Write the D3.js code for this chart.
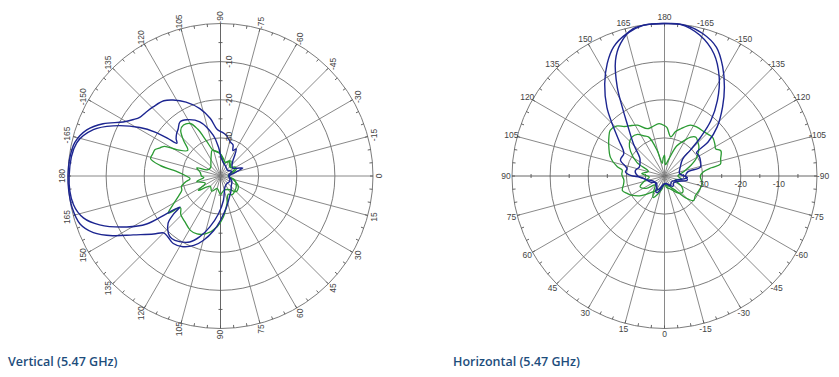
<!DOCTYPE html>
<html>
<head>
<meta charset="utf-8">
<script src="https://cdn.jsdelivr.net/npm/d3@7"></script>
<style>
  body { margin: 0; background: #fff; }
  .cap { font-family: "Open Sans", sans-serif; font-weight: 600; font-size: 12.5px; fill: #1d4d7c; }
  .lbl { font-family: "Liberation Sans", Arial, sans-serif; font-size: 8.5px; fill: #444; }
</style>
</head>
<body>
<svg id="chart" width="839" height="377"></svg>
<script>
// angle convention of the plots: 0 = bottom, 90 = left, 180 = top, -90 = right
const angleTicks = d3.range(-165, 181, 15);
const ringLevels = [-30, -20, -10, 0];
const ringLabels = [-30, -20, -10];
const dbMin = -40, dbMax = 0;

// [angle, dB] — vertical cut
const vBlue1 = [[-180,0],[-173,-0.2],[-167,-0.8],[-161,-2.9],[-156,-6.3],[-151,-10.8],[-147,-12.8],[-144,-13.8],[-139,-14.3],[-134,-14.7],[-127,-15.3],[-122,-16.5],[-115,-18.6],[-107,-21.5],[-100,-24.7],[-94,-27.8],[-88,-28.5],[-82,-29.2],[-74,-30.7],[-68,-31.2],[-64,-32.6],[-60,-31.8],[-56,-33.2],[-52,-34.6],[-44,-35.8],[-34,-36.2],[-26,-35.4],[-20,-33.8],[-16,-35.2],[-10,-36.8],[-3,-37.6],[5,-37.8],[15,-37.2],[28,-36.6],[42,-36.2],[55,-35.2],[67,-34],[79,-31.7],[90,-28.4],[97,-25.6],[105,-22.5],[111,-20.5],[118,-19],[125,-18.4],[131,-18.9],[135,-18.9],[139,-16.8],[146,-12.4],[151,-7.7],[156,-3.5],[161,-1.1],[168,-0.2],[175,0]];
const vBlue2 = [[-180,-0.3],[-167,-1.3],[-160,-4.5],[-155,-8.9],[-149,-15.3],[-146,-19.5],[-144.5,-23],[-143,-25.7],[-140,-24.8],[-136,-24],[-132,-23.4],[-127,-22.3],[-121,-22.8],[-111,-24.8],[-100,-29.2],[-94,-32.4],[-88,-35.2],[-78,-36.4],[-60,-37.2],[-40,-37.6],[-22,-36.8],[-8,-37.8],[10,-37.6],[30,-37.2],[50,-37.4],[68,-36.9],[83,-33.6],[93,-30.1],[102,-26.3],[109,-23.1],[115,-20.9],[122,-19.7],[128,-19.2],[132,-19.6],[138,-21.5],[141,-24.2],[142.6,-26.6],[145,-22.8],[147,-16.9],[151.5,-12],[158,-5.8],[163,-2.4],[169,-0.7]];
const vGreen1 = [[-180,-31],[-175,-29],[-170,-23.9],[-166,-21.1],[-162,-21.3],[-158,-21.5],[-155,-22.5],[-152,-23.4],[-149,-26.6],[-142,-29.1],[-136,-26.5],[-131,-24.1],[-126,-23.5],[-120,-24.1],[-116,-26.3],[-112,-30],[-106,-33],[-99,-33.6],[-91,-34.1],[-82,-35.2],[-70,-36.2],[-55,-35.2],[-40,-36.6],[-25,-35.4],[-10,-37.2],[0,-38],[15,-36.2],[30,-35.2],[45,-34.6],[58,-34.2],[67,-34.8],[77,-32.5],[86,-29.2],[94,-26.6],[104,-24.4],[112,-23.6],[119,-23.7],[128,-24.8],[136,-25.5],[141.5,-26.6],[144.6,-23.2],[149,-25.5],[155,-28],[160,-29.2],[165,-29.4],[170,-30.6],[175,-32]];
const vGreen2 = [[-180,-35],[-170,-34.6],[-161,-33.4],[-155,-36.2],[-140,-36.6],[-125,-35.6],[-115,-34.2],[-108,-32.9],[-100,-33.4],[-92,-34],[-85,-35],[-75,-36.6],[-60,-35.4],[-45,-36.6],[-30,-35.4],[-15,-37.2],[0,-38],[15,-36.6],[30,-34.6],[45,-34.2],[55,-35.6],[75,-36.2],[90,-35.2],[105,-36.6],[120,-35.4],[135,-36.2],[147,-33.1],[155,-35.6],[167,-33.6],[175,-35.6]];

// [angle, dB] — horizontal cut
const hBlue1 = [[-180,0],[-172,-0.1],[-165,-1.3],[-158,-3.6],[-152,-7.5],[-146,-11.9],[-140,-16.3],[-133,-21.1],[-128,-25.5],[-126,-29.6],[-121,-29.5],[-112,-29.8],[-104,-30.3],[-100,-33.8],[-90,-34.5],[-80,-33.9],[-70,-36],[-55,-37],[-40,-36.5],[-25,-37.5],[-10,-38],[5,-37.8],[15,-36.6],[24,-35.2],[30,-35.4],[38,-36.8],[52,-37.2],[66,-36],[80,-35],[87,-33.7],[91,-31.1],[96,-29.7],[101,-30],[110,-27.7],[119,-27.8],[128,-24.8],[135,-20.6],[140,-16.5],[147,-11.2],[153,-6.9],[158.5,-3.6],[165,-1.4],[172,-0.1]];
const hBlue2 = [[-180,0],[-174,0],[-166,-1.9],[-158,-5.4],[-151,-10.4],[-145,-15.8],[-140,-21.1],[-137,-26.1],[-135,-30.4],[-133,-33.5],[-120,-35.2],[-100,-36],[-86,-34],[-72,-36.6],[-50,-37.6],[-30,-37],[-10,-38],[10,-37.6],[25,-36],[40,-36.6],[60,-37],[80,-35],[90,-33],[100,-32.2],[110,-33],[120,-32.6],[126,-32],[136,-28.3],[144.5,-23.1],[148.5,-18.8],[152,-13.6],[157,-7.1],[161.6,-3.4],[168,-0.5],[175,0]];
const hGreen1 = [[-180,-26.8],[-177,-27.3],[-171,-29.6],[-166,-28],[-161,-26.9],[-153,-25],[-146,-24.6],[-140,-24.5],[-134,-24.2],[-129,-23.8],[-122,-24.4],[-118,-24.8],[-114,-23.8],[-107,-24.6],[-102,-25],[-100,-27.5],[-96,-29.8],[-90,-30.6],[-78,-29.9],[-67,-30.2],[-57,-30.4],[-50,-30],[-44,-32],[-38,-35],[-25,-37],[-10,-37.5],[0,-38],[10,-37.5],[22,-36.4],[35,-35],[50,-32],[60,-30],[65,-29.2],[71,-28.3],[78,-29],[84,-29.3],[92,-28.8],[98,-28.8],[101,-27.4],[109,-25],[120,-23.1],[125,-22.2],[130,-21.4],[136,-21.8],[141,-23.3],[147,-24.2],[152,-24.9],[160,-26.8],[166,-26.7],[174,-26.2]];
const hGreen2 = [[-180,-34.5],[-175,-37],[-166,-35.5],[-158,-31.5],[-151,-29.4],[-146,-27.7],[-141,-26.9],[-135,-27.6],[-130,-28.2],[-120,-30.2],[-112,-32.5],[-102,-35],[-90,-36.5],[-80,-35.5],[-70,-37],[-58,-34.6],[-48,-33.6],[-38,-34.4],[-25,-36.2],[-10,-37],[0,-38],[10,-36.6],[20,-35],[28,-33.6],[36,-35.2],[46,-36.6],[56,-34.2],[66,-33],[76,-34.6],[86,-36],[96,-34],[106,-35.6],[116,-32],[126,-29],[133,-27.4],[140,-26.7],[147,-27],[153,-28.2],[158,-29],[164,-33],[170,-36.6],[176,-35.2]];

const BLUE = '#1c2590', GREEN = '#2a9a32', GRID = '#7c7c7c';
const R = 152.5;
const svg = d3.select('#chart');

function drawPolar(cx, cy, rot, greens, blues) {
  const g = svg.append('g').attr('transform', `translate(${cx},${cy}) rotate(${rot})`);
  const r = d3.scaleLinear().domain([dbMin, dbMax]).range([0, R]).clamp(true);
  const rad = a => (a + 180) * Math.PI / 180;
  const pt = (a, rr) => [rr * Math.sin(rad(a)), -rr * Math.cos(rad(a))];

  // rings
  g.selectAll('.ring').data(ringLevels).join('circle')
    .attr('r', d => r(d)).attr('fill', 'none')
    .attr('stroke', GRID).attr('stroke-width', 1);

  // spokes every 15 deg
  g.selectAll('.spoke').data(angleTicks).join('line')
    .attr('x1', 0).attr('y1', 0)
    .attr('x2', d => pt(d, R)[0]).attr('y2', d => pt(d, R)[1])
    .attr('stroke', d => Math.abs(d) === 90 ? '#555' : GRID).attr('stroke-width', 0.9);

  // 5 deg ticks on the outer circle
  g.selectAll('.otick').data(d3.range(-180, 180, 5)).join('line')
    .attr('x1', d => pt(d, R - 3)[0]).attr('y1', d => pt(d, R - 3)[1])
    .attr('x2', d => pt(d, R)[0]).attr('y2', d => pt(d, R)[1])
    .attr('stroke', '#555').attr('stroke-width', 0.9);

  // dB ticks along the 90 / -90 axis
  const dbTicks = d3.range(-35, 0, 10);
  g.selectAll('.atick').data(dbTicks.flatMap(v => [r(v), -r(v)])).join('line')
    .attr('x1', d => d).attr('x2', d => d).attr('y1', -2).attr('y2', 2)
    .attr('stroke', '#555').attr('stroke-width', 0.9);

  // curves
  const line = d3.lineRadial()
    .angle(d => rad(d[0])).radius(d => r(d[1]))
    .curve(d3.curveCatmullRomClosed.alpha(0.5));
  greens.forEach(s => g.append('path').attr('d', line(s))
    .attr('fill', 'none').attr('stroke', GREEN).attr('stroke-width', 1.3));
  blues.forEach(s => g.append('path').attr('d', line(s))
    .attr('fill', 'none').attr('stroke', BLUE).attr('stroke-width', 1.4));

  // angle labels
  g.selectAll('.alabel').data(angleTicks).join('text')
    .attr('class', 'lbl')
    .attr('x', d => pt(d, R + 6)[0]).attr('y', d => pt(d, R + 6)[1])
    .attr('text-anchor', 'middle').attr('dy', '0.35em')
    .text(d => d);

  // ring labels
  g.selectAll('.rlabel').data(ringLabels).join('text')
    .attr('class', 'lbl')
    .attr('x', d => r(d)).attr('y', 8.5)
    .attr('text-anchor', 'middle').attr('dy', '0.35em')
    .text(d => d);
}

drawPolar(220.5, 176, -90, [vGreen1, vGreen2], [vBlue1, vBlue2]);
drawPolar(664.5, 176, 0, [hGreen1, hGreen2], [hBlue1, hBlue2]);

svg.append('text').attr('class', 'cap').attr('x', 8).attr('y', 365.5).text('Vertical (5.47 GHz)');
svg.append('text').attr('class', 'cap').attr('x', 453).attr('y', 365.5).text('Horizontal (5.47 GHz)');
</script>
</body>
</html>
